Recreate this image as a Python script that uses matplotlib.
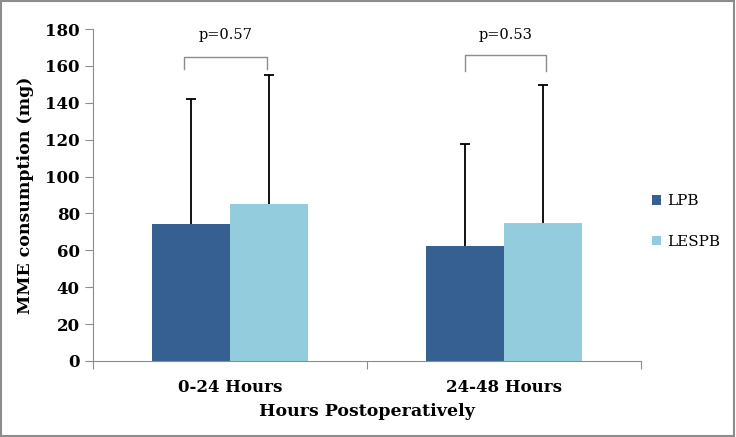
import matplotlib
matplotlib.use("Agg")
import matplotlib.pyplot as plt
import numpy as np

plt.rcParams['font.family'] = ['DejaVu Serif']

categories = ["0-24 Hours", "24-48 Hours"]
series = ["LPB", "LESPB"]
lpb = [74, 62.5]
lpb_err = [68, 55]
lespb = [85, 75]
lespb_err = [70, 74.5]
p_values = ["p=0.57", "p=0.53"]
colors = ["#376092", "#93CDDD"]

fig = plt.figure(figsize=(7.36, 4.37), dpi=100)
ax = fig.add_axes([0.1264, 0.174, 0.7446, 0.7596])

x = np.arange(len(categories))
w = 0.285
for off, vals, errs, col, name in [(-w / 2, lpb, lpb_err, colors[0], series[0]),
                                   (w / 2, lespb, lespb_err, colors[1], series[1])]:
    ax.bar(x + off, vals, w, color=col, label=name)
    tops = np.array(vals) + np.array(errs)
    ax.vlines(x + off, vals, tops, color="black", lw=1.3)
    ax.plot(x + off, tops, ls="none", marker="_", ms=7, mew=1.3, color="black")

# significance brackets
brackets = [(-0.168, 0.135, 158.3, 164.9), (-0.142, 0.153, 157.3, 166)]
for i, (a, b, lo, hi) in enumerate(brackets):
    ax.plot([x[i] + a, x[i] + a, x[i] + b, x[i] + b], [lo, hi, hi, lo],
            color="#8c8c8c", lw=1, solid_joinstyle="round")
    ax.text(x[i] + (a + b) / 2, 176.5, p_values[i], ha="center", va="center", fontsize=10.5)

ax.set_xlim(-0.5, 1.5)
ax.set_ylim(0, 180)
ax.set_yticks(np.arange(0, 181, 20))
ax.set_xticks([-0.5, 0.5, 1.5], minor=False)
ax.set_xticklabels([])
ax.set_xticks(x, minor=True)
ax.set_xticklabels(categories, minor=True, fontsize=12, fontweight="bold")
ax.tick_params(axis="x", which="minor", length=0, pad=13)
ax.tick_params(axis="x", which="major", length=6, color="#8c8c8c")
ax.tick_params(axis="y", length=6, color="#8c8c8c", labelsize=12)
for lab in ax.get_yticklabels():
    lab.set_fontweight("bold")
for s in ["top", "right"]:
    ax.spines[s].set_visible(False)
for s in ["left", "bottom"]:
    ax.spines[s].set_color("#8c8c8c")

ax.set_ylabel("MME consumption (mg)", fontsize=12.5, fontweight="bold", labelpad=8)
ax.set_xlabel("Hours Postoperatively", fontsize=12.5, fontweight="bold", labelpad=5)

ax.legend(loc="center left", bbox_to_anchor=(1.0, 0.42), frameon=False, fontsize=11,
          handlelength=0.6, handleheight=0.6, handletextpad=0.4, labelspacing=1.75,
          borderaxespad=0.3)

fig.patches.append(plt.Rectangle((0.002, 0.003), 0.995, 0.994, transform=fig.transFigure,
                                 fill=False, edgecolor="#8c8c8c", lw=1.5))
fig.savefig("out.png", dpi=100)
